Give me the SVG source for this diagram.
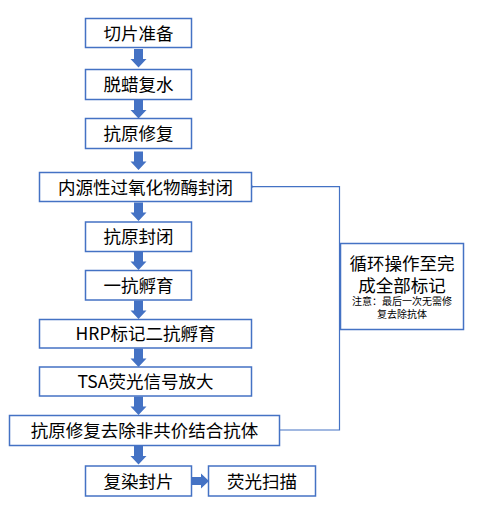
<svg xmlns="http://www.w3.org/2000/svg" width="503" height="512" viewBox="0 0 503 512">
<style>
.box{fill:#fff;stroke:#4472c4;stroke-width:1.5}
.t{font-family:"Noto Sans CJK SC","Liberation Sans",sans-serif;font-size:17.5px;fill:#000;text-anchor:middle}
.s{font-size:10px}
.ba{fill:#4472c4}
.fb{fill:none;stroke:#4472c4;stroke-width:1.2}
</style>
<defs>
<path id="da" d="M-4.5,0 H4.5 V10 H8 L0,18.5 L-8,10 H-4.5 Z"/>
<marker id="oa" markerWidth="10" markerHeight="10" refX="1" refY="5" orient="auto" markerUnits="userSpaceOnUse">
<path d="M8,1 L1,5 L8,9" fill="none" stroke="#4472c4" stroke-width="1.2"/>
</marker>
</defs>
<g id="connectors">
<use href="#da" class="ba" x="138.5" y="49"/>
<use href="#da" class="ba" x="138.5" y="100"/>
<use href="#da" class="ba" x="138.5" y="151.5"/>
<use href="#da" class="ba" x="138.5" y="202.5"/>
<use href="#da" class="ba" x="138.5" y="251.5"/>
<use href="#da" class="ba" x="138.5" y="300.5"/>
<use href="#da" class="ba" x="138.5" y="348.5"/>
<use href="#da" class="ba" x="138.5" y="396.5"/>
<use href="#da" class="ba" x="138.5" y="446"/>
<path class="ba" d="M192,477 H201 V473.5 L209,481 L201,488.5 V485 H192 Z"/>
<path class="fb" d="M279.5,430 H339.5 V186.7 H253" marker-end="url(#oa)"/>
</g>
<g id="n1"><rect class="box" x="85.5" y="18.5" width="106" height="29"/><text class="t" x="138.5" y="39.5">切片准备</text></g>
<g id="n2"><rect class="box" x="85.5" y="69.5" width="106" height="30"/><text class="t" x="138.5" y="91">脱蜡复水</text></g>
<g id="n3"><rect class="box" x="85.5" y="118.5" width="106" height="30"/><text class="t" x="138.5" y="140">抗原修复</text></g>
<g id="n4"><rect class="box" x="39.5" y="172.5" width="212" height="29"/><text class="t" x="145.5" y="193.5">内源性过氧化物酶封闭</text></g>
<g id="n5"><rect class="box" x="85.5" y="222" width="106" height="29.5"/><text class="t" x="138.5" y="243">抗原封闭</text></g>
<g id="n6"><rect class="box" x="85.5" y="270.5" width="106" height="29.5"/><text class="t" x="138.5" y="291.5">一抗孵育</text></g>
<g id="n7"><rect class="box" x="39.5" y="319.5" width="212" height="28.5"/><text class="t" x="145.5" y="340">HRP标记二抗孵育</text></g>
<g id="n8"><rect class="box" x="39.5" y="367" width="212" height="29"/><text class="t" x="145.5" y="388">TSA荧光信号放大</text></g>
<g id="n9"><rect class="box" x="9.5" y="415.5" width="270" height="30"/><text class="t" x="144.5" y="437">抗原修复去除非共价结合抗体</text></g>
<g id="n10"><rect class="box" x="85.5" y="466" width="106" height="30"/><text class="t" x="138.5" y="487.5">复染封片</text></g>
<g id="n11"><rect class="box" x="208.5" y="466" width="107" height="30"/><text class="t" x="262" y="487.5">荧光扫描</text></g>
<g id="n12"><rect class="box" x="340.5" y="243.5" width="123" height="86"/>
<text class="t"><tspan x="402" y="270">循环操作至完</tspan><tspan x="402" y="292">成全部标记</tspan><tspan class="s" x="402" y="305">注意：最后一次无需修</tspan><tspan class="s" x="402" y="317.5">复去除抗体</tspan></text></g>
</svg>
